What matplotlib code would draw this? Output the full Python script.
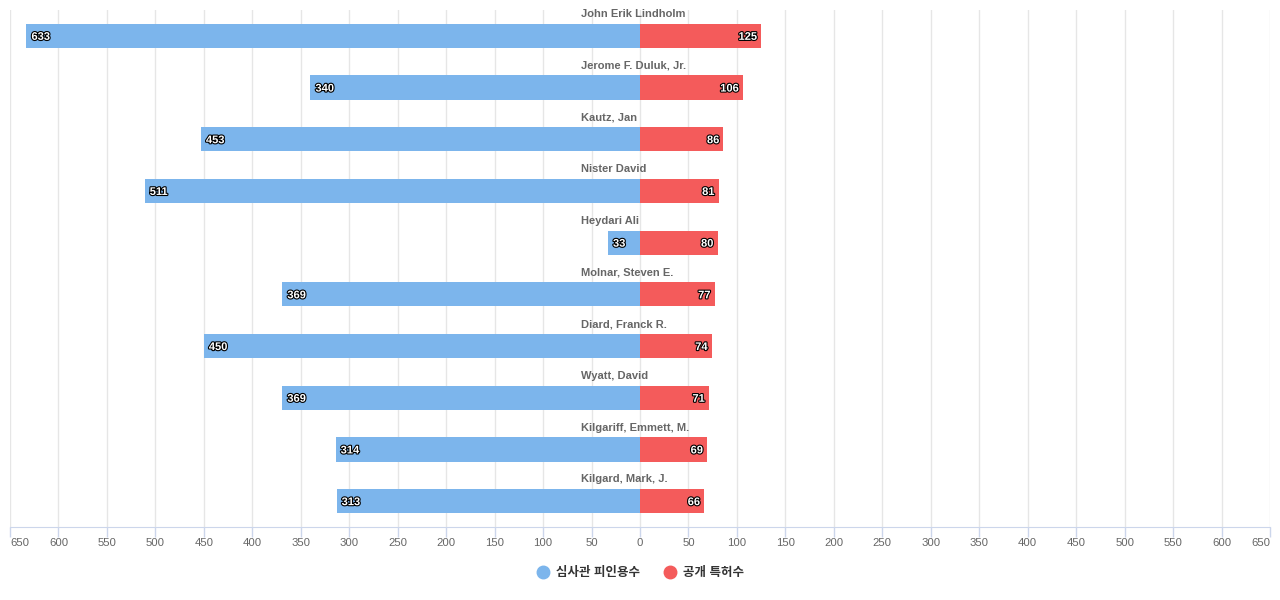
import matplotlib
matplotlib.use("Agg")
import matplotlib.pyplot as plt
import matplotlib.patheffects as pe
from matplotlib.lines import Line2D

plt.rcParams['font.family'] = ['Liberation Sans', 'Noto Sans CJK KR', 'DejaVu Sans']

names = ["John Erik Lindholm", "Jerome F. Duluk, Jr.", "Kautz, Jan", "Nister David",
         "Heydari Ali", "Molnar, Steven E.", "Diard, Franck R.", "Wyatt, David",
         "Kilgariff, Emmett, M.", "Kilgard, Mark, J."]
cited = [633, 340, 453, 511, 33, 369, 450, 369, 314, 313]
patents = [125, 106, 86, 81, 80, 77, 74, 71, 69, 66]
series_names = ["심사관 피인용수", "공개 특허수"]
xticks = list(range(-650, 651, 50))

blue = "#7cb5ec"
red = "#f45b5b"

fig = plt.figure(figsize=(12.8, 6.0), dpi=100)
ax = fig.add_axes([10 / 1280, 73 / 600, 1260 / 1280, 517 / 600])

ypos = list(range(len(names)))
ax.barh(ypos, [-v for v in cited], height=0.47, color=blue, zorder=2)
ax.barh(ypos, patents, height=0.47, color=red, zorder=2)

ax.set_xlim(-650, 650)
ax.set_ylim(len(names) - 0.5, -0.5)

outline = [pe.withStroke(linewidth=1.6, foreground="black")]
for i in ypos:
    ax.annotate(names[i], xy=(0, i - 0.42), xytext=(-59, 0), textcoords="offset pixels",
                ha="left", va="center", fontsize=8, fontweight="bold", color="#666666", zorder=4)
    ax.annotate(str(cited[i]), xy=(-cited[i], i), xytext=(5, -1), textcoords="offset pixels",
                ha="left", va="center", fontsize=8, fontweight="bold", color="white",
                path_effects=outline, zorder=4)
    ax.annotate(str(patents[i]), xy=(patents[i], i), xytext=(-4, -1), textcoords="offset pixels",
                ha="right", va="center", fontsize=8, fontweight="bold", color="white",
                path_effects=outline, zorder=4)

ax.set_xticks(xticks, [str(abs(v)) for v in xticks])
ax.grid(axis="x", color="#e6e6e6", linewidth=1, zorder=0)
ax.set_yticks([])
for s in ["top", "right", "left"]:
    ax.spines[s].set_visible(False)
ax.spines["bottom"].set_color("#ccd6eb")
ax.tick_params(axis="x", colors="#ccd6eb", length=7, width=1, pad=1, labelcolor="#666666", labelsize=8.2)

tlabels = ax.get_xticklabels()
tlabels[0].set_horizontalalignment("left")
tlabels[-1].set_horizontalalignment("right")

handles = [Line2D([], [], marker="o", linestyle="", markersize=9, color=blue),
           Line2D([], [], marker="o", linestyle="", markersize=9, color=red)]
leg = fig.legend(handles, series_names, loc="center", bbox_to_anchor=(0.498, 1 - 573 / 600), ncol=2,
                 frameon=False, handletextpad=0.05, columnspacing=1.4,
                 prop={"size": 9, "weight": "bold"})
for t in leg.get_texts():
    t.set_color("#333333")

fig.savefig("out.png", dpi=100)
